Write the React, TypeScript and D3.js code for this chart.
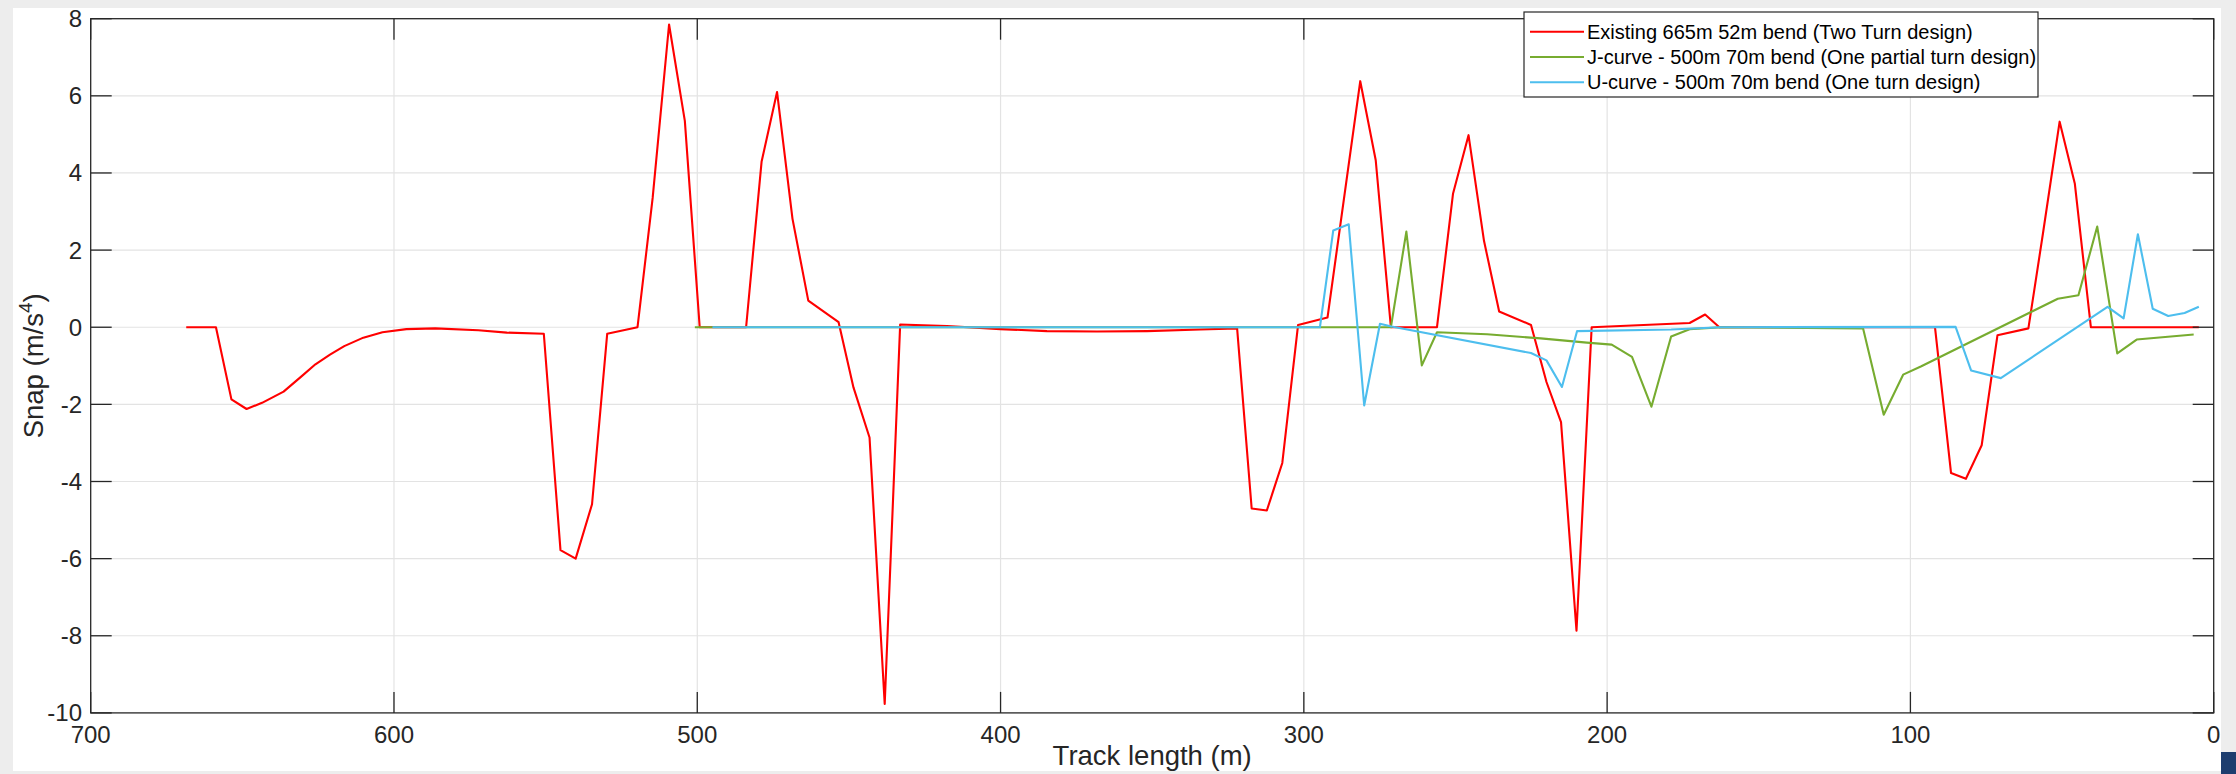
import { useEffect, useRef } from 'react';
import * as d3 from 'd3';

// Existing 665m 52m bend (Two Turn design)
const existingTrack = [668.5, 658.7, 653.6, 648.6, 643.5, 636.4, 630.6, 625.9, 621.1, 616.4, 610.1, 603.8, 595.9, 586.4, 572.2, 562.8, 550.6, 545.1, 540.1, 534.7, 529.7, 519.7, 514.7, 509.3, 504.1, 499.2, 483.9, 478.8, 473.7, 468.6, 463.4, 453.4, 448.5, 443.2, 438.2, 433.1, 417.7, 400.1, 384.7, 368.2, 351.7, 334.1, 322.0, 317.2, 312.2, 307.1, 301.9, 292.2, 281.4, 276.3, 271.3, 256.1, 250.8, 245.7, 240.6, 235.6, 225.1, 220.0, 215.2, 210.1, 205.1, 172.8, 167.7, 163.0, 91.9, 86.6, 81.7, 76.5, 71.3, 61.1, 56.3, 50.8, 45.8, 40.5, 4.9];
const existingSnap = [0, 0, -1.87, -2.12, -1.96, -1.67, -1.28, -0.96, -0.71, -0.49, -0.27, -0.13, -0.05, -0.03, -0.08, -0.14, -0.17, -5.78, -6.0, -4.59, -0.17, 0, 3.36, 7.85, 5.35, 0, 0, 4.29, 6.1, 2.81, 0.69, 0.13, -1.56, -2.86, -9.77, 0.07, 0.03, -0.05, -0.1, -0.11, -0.1, -0.06, -0.03, -4.7, -4.75, -3.52, 0.06, 0.25, 6.38, 4.33, 0, 0, 3.47, 4.98, 2.24, 0.41, 0.06, -1.42, -2.46, -7.87, 0, 0.11, 0.33, 0, 0, -3.78, -3.93, -3.06, -0.21, -0.03, 2.43, 5.33, 3.73, 0, 0];

// J-curve - 500m 70m bend (One partial turn design)
const jCurveTrack = [500.8, 271.3, 266.2, 261.1, 256.1, 239.6, 221.9, 206.7, 198.5, 191.8, 185.4, 178.9, 172.8, 162.0, 115.6, 108.8, 102.4, 96.4, 51.4, 44.6, 38.4, 31.8, 25.4, 6.6];
const jCurveSnap = [0, 0, 2.48, -0.99, -0.13, -0.18, -0.29, -0.4, -0.45, -0.77, -2.06, -0.24, -0.05, 0, -0.03, -2.27, -1.23, -1.01, 0.74, 0.83, 2.61, -0.68, -0.32, -0.19];

// U-curve - 500m 70m bend (One turn design)
const uCurveTrack = [495.0, 294.7, 290.3, 285.2, 280.1, 274.9, 271.1, 225.1, 220.0, 214.9, 209.9, 178.9, 162.7, 85.1, 80.0, 70.2, 35.0, 29.7, 25.0, 20.1, 15.0, 9.6, 4.9];
const uCurveSnap = [0, 0, 2.51, 2.67, -2.03, 0.09, 0.02, -0.67, -0.86, -1.55, -0.1, -0.06, 0, 0.01, -1.12, -1.32, 0.53, 0.23, 2.41, 0.48, 0.29, 0.37, 0.53];

const xTicks = [700, 600, 500, 400, 300, 200, 100, 0];
const yTicks = [-10, -8, -6, -4, -2, 0, 2, 4, 6, 8];

const seriesLabels = [
  'Existing 665m 52m bend (Two Turn design)',
  'J-curve - 500m 70m bend (One partial turn design)',
  'U-curve - 500m 70m bend (One turn design)',
];

export default function App() {
  const svgRef = useRef<SVGSVGElement>(null);

  useEffect(() => {
    if (!svgRef.current) return;
    document.body.style.margin = '0';

    const svg = d3.select(svgRef.current);
    svg.selectAll('*').remove();

    const width = 2236;
    const height = 774;
    const left = 90.7, right = 2213.7, top = 18.7, bottom = 712.9;
    const font = '"Liberation Sans", Arial, Helvetica, sans-serif';
    const axisColor = '#262626';

    // page / figure background
    svg.append('rect').attr('width', width).attr('height', height).attr('fill', '#ededed');
    svg.append('rect').attr('x', 13).attr('y', 8).attr('width', 2208).attr('height', 763).attr('fill', '#ffffff');
    svg.append('rect').attr('x', 2221).attr('y', 752).attr('width', 15).attr('height', 22).attr('fill', '#1d3d6e');

    const xScale = d3.scaleLinear().domain([700, 0]).range([left, right]);
    const yScale = d3.scaleLinear().domain([-10, 8]).range([bottom, top]);

    // Grid lines
    const grid = svg.append('g').attr('stroke', '#e3e3e3').attr('stroke-width', 1.2);
    xTicks.slice(1, -1).forEach(t => {
      grid.append('line')
        .attr('x1', xScale(t)).attr('x2', xScale(t))
        .attr('y1', top).attr('y2', bottom);
    });
    yTicks.slice(1, -1).forEach(t => {
      grid.append('line')
        .attr('x1', left).attr('x2', right)
        .attr('y1', yScale(t)).attr('y2', yScale(t));
    });

    // Lines
    const lines = [
      { xs: existingTrack, ys: existingSnap, color: '#ff0000' },
      { xs: jCurveTrack, ys: jCurveSnap, color: '#77ac30' },
      { xs: uCurveTrack, ys: uCurveSnap, color: '#4dbeee' },
    ];
    const lineGen = d3.line<[number, number]>()
      .x(d => xScale(d[0]))
      .y(d => yScale(d[1]));

    lines.forEach(line => {
      const pts = line.xs.map((x, i) => [x, line.ys[i]] as [number, number]);
      svg.append('path')
        .attr('d', lineGen(pts))
        .attr('fill', 'none')
        .attr('stroke', line.color)
        .attr('stroke-width', 2.1)
        .attr('stroke-linejoin', 'round');
    });

    // Axes box + inward ticks on all four sides
    const axes = svg.append('g').attr('stroke', axisColor).attr('stroke-width', 1.3);
    axes.append('rect')
      .attr('x', left).attr('y', top)
      .attr('width', right - left).attr('height', bottom - top)
      .attr('fill', 'none');
    const tickLen = 21;
    xTicks.forEach(t => {
      axes.append('line').attr('x1', xScale(t)).attr('x2', xScale(t)).attr('y1', bottom).attr('y2', bottom - tickLen);
      axes.append('line').attr('x1', xScale(t)).attr('x2', xScale(t)).attr('y1', top).attr('y2', top + tickLen);
    });
    yTicks.forEach(t => {
      axes.append('line').attr('x1', left).attr('x2', left + tickLen).attr('y1', yScale(t)).attr('y2', yScale(t));
      axes.append('line').attr('x1', right).attr('x2', right - tickLen).attr('y1', yScale(t)).attr('y2', yScale(t));
    });

    // Tick labels
    xTicks.forEach(t => {
      svg.append('text')
        .attr('x', xScale(t)).attr('y', 742.5)
        .attr('text-anchor', 'middle')
        .style('font-family', font).style('font-size', '24px')
        .attr('fill', axisColor)
        .text(t);
    });
    yTicks.forEach(t => {
      svg.append('text')
        .attr('x', 82).attr('y', yScale(t) + 8.5)
        .attr('text-anchor', 'end')
        .style('font-family', font).style('font-size', '24px')
        .attr('fill', axisColor)
        .text(t);
    });

    // Axis labels
    svg.append('text')
      .attr('x', (left + right) / 2).attr('y', 765)
      .attr('text-anchor', 'middle')
      .style('font-family', font).style('font-size', '27.5px')
      .attr('fill', axisColor)
      .text('Track length (m)');

    const yLabel = svg.append('text')
      .attr('transform', `translate(43, ${(top + bottom) / 2}) rotate(-90)`)
      .attr('text-anchor', 'middle')
      .style('font-family', font).style('font-size', '27.5px')
      .attr('fill', axisColor);
    yLabel.append('tspan').text('Snap (m/s');
    yLabel.append('tspan').attr('dy', -11).style('font-size', '19px').text('4');
    yLabel.append('tspan').attr('dy', 11).text(')');

    // Legend
    const legend = svg.append('g');
    legend.append('rect')
      .attr('x', 1524).attr('y', 12)
      .attr('width', 514).attr('height', 85)
      .attr('fill', '#ffffff')
      .attr('stroke', axisColor)
      .attr('stroke-width', 1.2);
    lines.forEach((line, i) => {
      const cy = 31.7 + i * 25.3;
      legend.append('line')
        .attr('x1', 1530).attr('x2', 1584)
        .attr('y1', cy).attr('y2', cy)
        .attr('stroke', line.color)
        .attr('stroke-width', 2.1);
      legend.append('text')
        .attr('x', 1587).attr('y', cy + 7)
        .style('font-family', font).style('font-size', '20px')
        .attr('fill', '#000000')
        .text(seriesLabels[i]);
    });
  }, []);

  return (
    <svg
      ref={svgRef}
      width={2236}
      height={774}
      style={{ position: 'absolute', left: 0, top: 0, display: 'block' }}
    />
  );
}
